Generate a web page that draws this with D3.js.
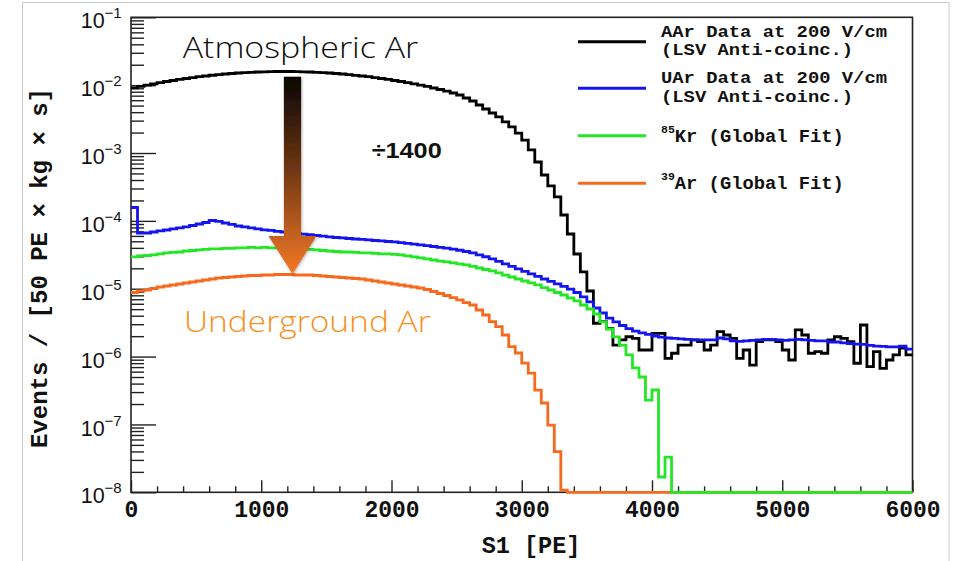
<!DOCTYPE html>
<html>
<head>
<meta charset="utf-8">
<script src="https://cdn.jsdelivr.net/npm/d3@7"></script>
<style>
  html, body { margin: 0; padding: 0; background: #ffffff; }
  svg { display: block; }
</style>
</head>
<body>
<svg id="chart" width="954" height="561"></svg>
<script>
// S1 spectra in 50 PE bins, 0 - 6000 PE
const binWidth = 50;

// Atmospheric argon data, 200 V/cm, LSV anti-coincidence
const aarData = [
  9.12e-3, 9.57e-3, 1.00e-2, 1.044e-2, 1.087e-2, 1.132e-2, 1.171e-2, 1.216e-2, 1.254e-2, 1.292e-2,
  1.332e-2, 1.364e-2, 1.400e-2, 1.431e-2, 1.460e-2, 1.486e-2, 1.510e-2, 1.531e-2, 1.547e-2, 1.563e-2,
  1.574e-2, 1.584e-2, 1.590e-2, 1.590e-2, 1.590e-2, 1.584e-2, 1.574e-2, 1.563e-2, 1.547e-2, 1.531e-2,
  1.510e-2, 1.486e-2, 1.460e-2, 1.431e-2, 1.398e-2, 1.364e-2, 1.332e-2, 1.292e-2, 1.254e-2, 1.216e-2,
  1.171e-2, 1.132e-2, 1.087e-2, 1.044e-2, 1.000e-2, 9.57e-3, 9.08e-3, 8.63e-3, 8.15e-3, 7.66e-3,
  7.16e-3, 6.47e-3, 5.84e-3, 5.10e-3, 4.45e-3, 3.89e-3, 3.40e-3, 2.87e-3, 2.42e-3, 1.97e-3,
  1.55e-3, 1.11e-3, 7.37e-4, 4.74e-4, 3.27e-4, 2.25e-4, 1.22e-4, 6.41e-5, 3.25e-5, 1.77e-5,
  9.26e-6, 3.10e-6, 3.27e-6, 2.61e-6, 1.48e-6, 1.76e-6, 1.96e-6, 1.86e-6, 1.25e-6, 1.25e-6,
  2.20e-6, 2.20e-6, 9.4e-7, 1.12e-6, 1.48e-6, 1.48e-6, 1.76e-6, 1.66e-6, 1.25e-6, 1.48e-6,
  2.33e-6, 2.08e-6, 1.86e-6, 9.4e-7, 1.25e-6, 7.5e-7, 1.66e-6, 1.76e-6, 1.76e-6, 1.66e-6,
  1.25e-6, 8.9e-7, 2.47e-6, 2.08e-6, 1.12e-6, 1.18e-6, 1.12e-6, 1.76e-6, 1.96e-6, 1.86e-6,
  1.66e-6, 7.97e-7, 2.92e-6, 7.1e-7, 1.18e-6, 6.7e-7, 8.9e-7, 1.06e-6, 1.33e-6, 1.06e-6
];

// Underground argon data, 200 V/cm, LSV anti-coincidence
const uarData = [
  1.575e-4, 6.63e-5, 6.63e-5, 6.86e-5, 7.10e-5, 7.34e-5, 7.60e-5, 7.86e-5, 8.13e-5, 8.55e-5,
  9.00e-5, 9.47e-5, 1.013e-4, 9.80e-5, 9.31e-5, 8.85e-5, 8.41e-5, 8.13e-5, 7.86e-5, 7.60e-5,
  7.39e-5, 7.22e-5, 7.02e-5, 6.86e-5, 6.70e-5, 6.54e-5, 6.39e-5, 6.24e-5, 6.09e-5, 5.95e-5,
  5.81e-5, 5.69e-5, 5.60e-5, 5.50e-5, 5.41e-5, 5.32e-5, 5.23e-5, 5.14e-5, 5.06e-5, 4.97e-5,
  4.89e-5, 4.77e-5, 4.65e-5, 4.54e-5, 4.42e-5, 4.31e-5, 4.19e-5, 4.08e-5, 3.96e-5, 3.83e-5,
  3.69e-5, 3.54e-5, 3.37e-5, 3.16e-5, 2.96e-5, 2.75e-5, 2.53e-5, 2.32e-5, 2.13e-5, 1.96e-5,
  1.80e-5, 1.65e-5, 1.52e-5, 1.39e-5, 1.28e-5, 1.18e-5, 1.08e-5, 9.9e-6, 8.80e-6, 7.56e-6,
  6.38e-6, 5.20e-6, 4.39e-6, 3.70e-6, 3.24e-6, 2.87e-6, 2.59e-6, 2.38e-6, 2.23e-6, 2.12e-6,
  2.01e-6, 1.94e-6, 1.88e-6, 1.85e-6, 1.82e-6, 1.79e-6, 1.76e-6, 1.76e-6, 1.76e-6, 1.76e-6,
  1.88e-6, 1.82e-6, 1.70e-6, 1.67e-6, 1.70e-6, 1.73e-6, 1.76e-6, 1.79e-6, 1.79e-6, 1.76e-6,
  1.73e-6, 1.76e-6, 1.79e-6, 1.76e-6, 1.73e-6, 1.70e-6, 1.70e-6, 1.64e-6, 1.64e-6, 1.59e-6,
  1.56e-6, 1.53e-6, 1.51e-6, 1.46e-6, 1.43e-6, 1.41e-6, 1.39e-6, 1.39e-6, 1.43e-6, 1.29e-6
];

// 85Kr component of the global fit
const kr85Fit = [
  2.94e-5, 3.04e-5, 3.09e-5, 3.15e-5, 3.26e-5, 3.37e-5, 3.43e-5, 3.48e-5, 3.60e-5, 3.66e-5,
  3.73e-5, 3.79e-5, 3.86e-5, 3.86e-5, 3.92e-5, 3.92e-5, 3.99e-5, 3.99e-5, 4.06e-5, 3.99e-5,
  4.06e-5, 3.99e-5, 3.99e-5, 3.92e-5, 3.92e-5, 3.92e-5, 3.86e-5, 3.79e-5, 3.73e-5, 3.66e-5,
  3.60e-5, 3.54e-5, 3.48e-5, 3.48e-5, 3.43e-5, 3.37e-5, 3.37e-5, 3.31e-5, 3.26e-5, 3.26e-5,
  3.20e-5, 3.15e-5, 3.04e-5, 2.94e-5, 2.84e-5, 2.75e-5, 2.65e-5, 2.56e-5, 2.48e-5, 2.40e-5,
  2.32e-5, 2.24e-5, 2.13e-5, 2.02e-5, 1.92e-5, 1.83e-5, 1.71e-5, 1.59e-5, 1.49e-5, 1.39e-5,
  1.30e-5, 1.22e-5, 1.14e-5, 1.04e-5, 9.58e-6, 8.80e-6, 8.08e-6, 7.30e-6, 6.60e-6, 5.76e-6,
  5.03e-6, 4.24e-6, 3.24e-6, 2.55e-6, 1.95e-6, 1.48e-6, 1.06e-6, 6.8e-7, 5.0e-7, 2.29e-7,
  3.22e-7, 1.68e-8, 3.31e-8, 0, 0, 0, 0, 0, 0, 0,
  0, 0, 0, 0, 0, 0, 0, 0, 0, 0,
  0, 0, 0, 0, 0, 0, 0, 0, 0, 0,
  0, 0, 0, 0, 0, 0, 0, 0, 0, 0
];

// 39Ar component of the global fit
const ar39Fit = [
  8.80e-6, 9.26e-6, 9.58e-6, 1.008e-5, 1.061e-5, 1.097e-5, 1.135e-5, 1.175e-5, 1.215e-5, 1.257e-5,
  1.300e-5, 1.345e-5, 1.392e-5, 1.439e-5, 1.464e-5, 1.489e-5, 1.515e-5, 1.541e-5, 1.567e-5, 1.567e-5,
  1.594e-5, 1.594e-5, 1.622e-5, 1.622e-5, 1.622e-5, 1.594e-5, 1.594e-5, 1.594e-5, 1.567e-5, 1.541e-5,
  1.515e-5, 1.489e-5, 1.464e-5, 1.439e-5, 1.415e-5, 1.392e-5, 1.345e-5, 1.300e-5, 1.257e-5, 1.215e-5,
  1.175e-5, 1.135e-5, 1.097e-5, 1.061e-5, 1.025e-5, 9.74e-6, 9.11e-6, 8.51e-6, 7.95e-6, 7.38e-6,
  6.83e-6, 6.23e-6, 5.76e-6, 4.86e-6, 4.10e-6, 3.27e-6, 2.76e-6, 2.08e-6, 1.40e-6, 1.13e-6,
  8.0e-7, 5.7e-7, 3.2e-7, 2.07e-7, 9.8e-8, 3.97e-8, 1.08e-8, 0, 0, 0,
  0, 0, 0, 0, 0, 0, 0, 0, 0, 0,
  0, 0, 0, 0, 0, 0, 0, 0, 0, 0,
  0, 0, 0, 0, 0, 0, 0, 0, 0, 0,
  0, 0, 0, 0, 0, 0, 0, 0, 0, 0,
  0, 0, 0, 0, 0, 0, 0, 0, 0, 0
];

// axis ticks and labels
const xMajorTicks = [0, 1000, 2000, 3000, 4000, 5000, 6000];
const xMinorTicks = [200, 400, 600, 800, 1200, 1400, 1600, 1800, 2200, 2400, 2600, 2800,
                     3200, 3400, 3600, 3800, 4200, 4400, 4600, 4800, 5200, 5400, 5600, 5800];
const yDecadeExponents = [-1, -2, -3, -4, -5, -6, -7, -8];
const yMinorMantissas = [2, 3, 4, 5, 6, 7, 8, 9];

const xTitle = "S1 [PE]";
const yTitle = "Events / [50 PE \u00d7 kg \u00d7 s]";

const legendEntries = [
  { key: "aar",  color: "#000000", lines: ["AAr Data at 200 V/cm", "(LSV Anti-coinc.)"] },
  { key: "uar",  color: "#1414ee", lines: ["UAr Data at 200 V/cm", "(LSV Anti-coinc.)"] },
  { key: "kr85", color: "#25e625", sup: "85", lines: ["Kr (Global Fit)"] },
  { key: "ar39", color: "#f56a1e", sup: "39", lines: ["Ar (Global Fit)"] }
];

// annotation: AAr -> UAr reduction
const scaleFactorLabel = "\u00f71400";
const arrowS1 = 1240;
const arrowTopValue = 1.33e-2;
const arrowHeadValue = 5.98e-5;
const arrowTipValue = 1.65e-5;

// ---------------------------------------------------------------
const svg = d3.select("#chart");
const plot = { left: 131, right: 912.5, top: 17.3, bottom: 492.3 };
const x = d3.scaleLinear().domain([0, 6000]).range([plot.left, plot.right]);
const y = d3.scaleLog().domain([1e-8, 1e-1]).range([plot.bottom, plot.top]);
const yFloor = 1e-8;
const mono = "'Liberation Mono', 'Courier New', monospace";
const sans = "'Liberation Sans', Arial, sans-serif";

// page border
svg.append("rect")
  .attr("x", 22.5).attr("y", 2.5).attr("width", 926.5).attr("height", 620)
  .attr("fill", "none").attr("stroke", "#c9c9c9").attr("stroke-width", 1);

// frame
svg.append("rect")
  .attr("x", plot.left).attr("y", plot.top)
  .attr("width", plot.right - plot.left).attr("height", plot.bottom - plot.top)
  .attr("fill", "none").attr("stroke", "#222").attr("stroke-width", 1.6);

// x axis
const xAxisG = svg.append("g").attr("transform", `translate(0,${plot.bottom})`);
xAxisG.call(d3.axisBottom(x).tickValues(xMajorTicks).tickSize(-12).tickPadding(8)
  .tickFormat(d3.format("d")));
xAxisG.append("g").call(d3.axisBottom(x).tickValues(xMinorTicks).tickSize(-6).tickFormat(""));
xAxisG.selectAll(".domain").remove();
xAxisG.selectAll(".tick line").attr("stroke", "#222").attr("stroke-width", 1.4);
xAxisG.selectAll(".tick text")
  .attr("font-family", mono).attr("font-weight", "bold").attr("font-size", 23)
  .attr("fill", "#111");

// y axis
const yMinorTicks = [];
for (let e = -8; e <= -2; e++) {
  yMinorMantissas.forEach(m => yMinorTicks.push(m * Math.pow(10, e)));
}
const yAxisG = svg.append("g").attr("transform", `translate(${plot.left},0)`);
yAxisG.call(d3.axisLeft(y).tickValues(yDecadeExponents.map(e => Math.pow(10, e)))
  .tickSize(-25).tickPadding(9.3).tickFormat(""));
yAxisG.append("g").call(d3.axisLeft(y).tickValues(yMinorTicks).tickSize(-13).tickFormat(""));
yAxisG.selectAll(".domain").remove();
yAxisG.selectAll(".tick line").attr("stroke", "#222").attr("stroke-width", 1.4);
yAxisG.selectAll(":scope > .tick text").each(function (d) {
  const t = d3.select(this);
  const exp = Math.round(Math.log10(d));
  t.attr("dy", "10.6px").attr("font-family", sans).attr("font-size", 21.5).attr("fill", "#111");
  t.append("tspan").text("10");
  t.append("tspan").attr("dy", -10).attr("font-size", 15).text("\u2212" + Math.abs(exp));
});

// axis titles
svg.append("text")
  .attr("x", 531).attr("y", 553).attr("text-anchor", "middle")
  .attr("font-family", mono).attr("font-weight", "bold").attr("font-size", 23.5)
  .attr("fill", "#111").text(xTitle);
svg.append("text")
  .attr("transform", "translate(46.5,268) rotate(-90)").attr("text-anchor", "middle")
  .attr("font-family", mono).attr("font-weight", "bold").attr("font-size", 24)
  .attr("fill", "#111").text(yTitle);

// histograms drawn as steps
function steps(values) {
  const pts = values.map((v, i) => ({ s: i * binWidth, v }));
  pts.push({ s: values.length * binWidth, v: values[values.length - 1] });
  return pts;
}
const stepLine = d3.line()
  .x(d => x(d.s))
  .y(d => y(Math.max(d.v, yFloor)))
  .curve(d3.curveStepAfter);

const series = [
  { key: "aar", values: aarData },
  { key: "uar", values: uarData },
  { key: "ar39", values: ar39Fit },
  { key: "kr85", values: kr85Fit }
];
const colorOf = Object.fromEntries(legendEntries.map(e => [e.key, e.color]));
svg.append("g").selectAll("path").data(series).join("path")
  .attr("d", d => stepLine(steps(d.values)))
  .attr("fill", "none")
  .attr("stroke", d => colorOf[d.key])
  .attr("stroke-width", 2.8)
  .attr("stroke-linejoin", "miter");

// legend (monospace, 11.3 px per character)
const legendLineY = [41.7, 88.3, 135.7, 183.3];
const legendCharW = 11.3;
const legend = svg.append("g");
legendEntries.forEach((e, i) => {
  const ly = legendLineY[i];
  legend.append("line")
    .attr("x1", 578).attr("x2", 646).attr("y1", ly).attr("y2", ly)
    .attr("stroke", e.color).attr("stroke-width", 3);
  const font = sel => sel.attr("font-family", mono).attr("font-weight", "bold")
    .attr("fill", "#111").attr("lengthAdjust", "spacingAndGlyphs");
  if (e.lines.length === 2) {
    e.lines.forEach((ln, j) => {
      legend.append("text").call(font)
        .attr("x", 661).attr("y", ly - 5 + j * 18.4)
        .attr("font-size", 16.2)
        .attr("textLength", ln.length * legendCharW)
        .text(ln);
    });
  } else {
    const t = legend.append("text").call(font)
      .attr("x", 661).attr("y", ly + 6).attr("font-size", 18.8);
    t.append("tspan").attr("font-size", 11.5).attr("dy", -9).text(e.sup);
    t.append("tspan").attr("dy", 9).text(e.lines[0]);
  }
});

// reduction arrow
const defs = svg.append("defs");
const grad = defs.append("linearGradient").attr("id", "arrowGrad")
  .attr("gradientUnits", "userSpaceOnUse")
  .attr("x1", 0).attr("x2", 0).attr("y1", y(arrowTopValue)).attr("y2", y(arrowTipValue));
grad.append("stop").attr("offset", "0%").attr("stop-color", "#080504");
grad.append("stop").attr("offset", "45%").attr("stop-color", "#6b3412");
grad.append("stop").attr("offset", "100%").attr("stop-color", "#f47a26");
const shadow = defs.append("filter").attr("id", "arrowShadow")
  .attr("x", "-50%").attr("y", "-10%").attr("width", "200%").attr("height", "120%");
shadow.append("feDropShadow").attr("dx", 0.8).attr("dy", 1).attr("stdDeviation", 1.4)
  .attr("flood-color", "#000").attr("flood-opacity", 0.3);

const ax = x(arrowS1);
const yTop = y(arrowTopValue), yHead = y(arrowHeadValue), yTip = y(arrowTipValue);
const shaftHalf = 8.6, headHalf = 24;
svg.append("path")
  .attr("d", `M${ax - shaftHalf},${yTop} L${ax + shaftHalf},${yTop} L${ax + shaftHalf},${yHead}
              L${ax + headHalf},${yHead} L${ax},${yTip} L${ax - headHalf},${yHead}
              L${ax - shaftHalf},${yHead} Z`)
  .attr("fill", "url(#arrowGrad)")
  .attr("filter", "url(#arrowShadow)");

// annotations
const gothic = "'Open Sans', 'DejaVu Sans', sans-serif";
svg.append("text")
  .attr("x", 182.7).attr("y", 58.3)
  .attr("textLength", 235.6).attr("lengthAdjust", "spacingAndGlyphs")
  .attr("font-family", gothic).attr("font-weight", 300).attr("font-size", 30)
  .attr("fill", "#0d0d0d").text("Atmospheric Ar");
svg.append("text")
  .attr("x", 184).attr("y", 331.7)
  .attr("textLength", 246.7).attr("lengthAdjust", "spacingAndGlyphs")
  .attr("font-family", gothic).attr("font-weight", 300).attr("font-size", 30)
  .attr("fill", "#f7901e").text("Underground Ar");
svg.append("text")
  .attr("x", 371.7).attr("y", 157.7)
  .attr("textLength", 70).attr("lengthAdjust", "spacingAndGlyphs")
  .attr("font-family", sans).attr("font-weight", "bold").attr("font-size", 22.5)
  .attr("fill", "#111").text(scaleFactorLabel);
</script>
</body>
</html>
